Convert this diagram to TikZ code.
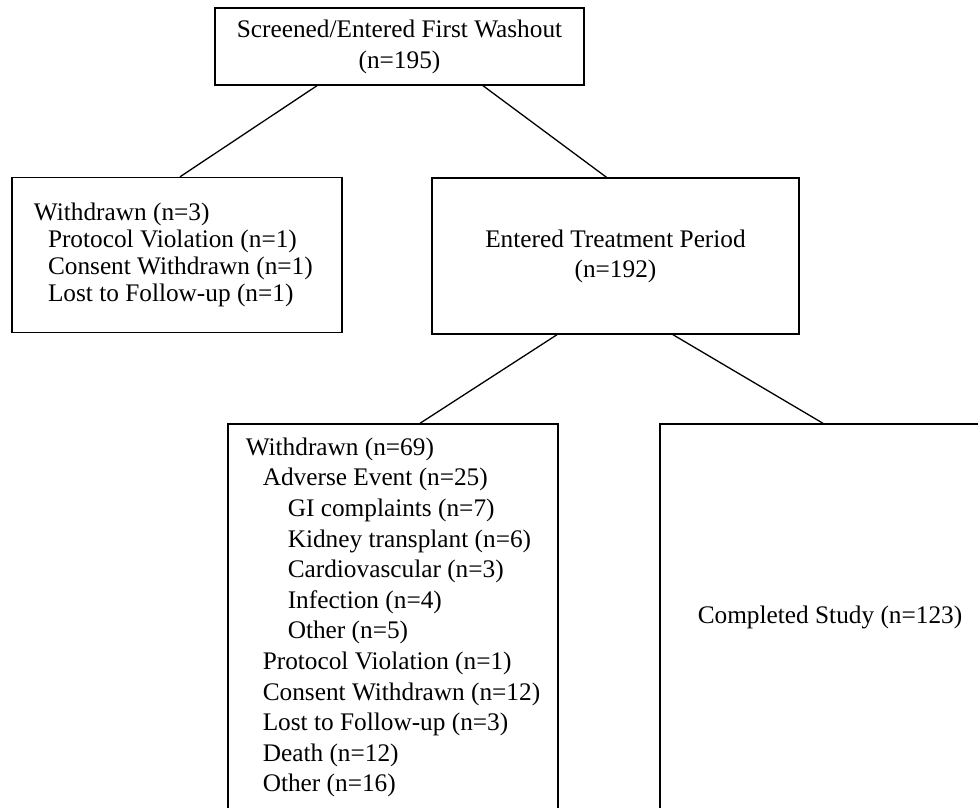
\documentclass[tikz,border=0pt]{standalone}
\usepackage{fontspec}
\setmainfont{Liberation Serif}
\usetikzlibrary{positioning,calc}
\newcommand{\ind}{\hspace*{14pt}}
\newcommand{\indb}{\hspace*{17pt}}
\newcommand{\indc}{\hspace*{42pt}}
\tikzset{
  bx/.style={draw,rectangle,line width=1.4pt,inner sep=0pt,
    font=\fontsize{25.3}{30.5}\selectfont},
  lead/.style={font=\fontsize{25.3}{#1}\selectfont}, % line spacing per box
  cbx/.style={bx,align=center},   % centred box
  lbx/.style={bx,align=flush left},     % list box
  link/.style={line width=1.3pt},
}
\begin{document}
\begin{tikzpicture}[x=1pt,y=-1pt]
  \useasboundingbox (0,0) rectangle (978,807);
  \clip (0,0) rectangle (978,807);
  % first level
  \node[cbx,lead=31pt,minimum width=369pt,minimum height=77pt] (scr) at (399.5,46.5)
    {Screened/Entered First Washout\\(n=195)};
  % second level
  \node[lbx,lead=27pt,minimum width=330pt,minimum height=155pt,text width=286pt] (wd1) at (177,255)
    {Withdrawn (n=3)\\
     \ind Protocol Violation (n=1)\\
     \ind Consent Withdrawn (n=1)\\
     \ind Lost to Follow-up (n=1)};
  \node[cbx,lead=30pt,minimum width=367pt,minimum height=156pt] (treat) at (615.5,256)
    {Entered Treatment Period\\(n=192)};
  % third level (runs off the page)
  \node[lbx,lead=30.6pt,minimum width=330pt,minimum height=387pt] (wd2) at (393,617.5)
    {Withdrawn (n=69)\\
     \indb Adverse Event (n=25)\\
     \indc GI complaints (n=7)\\
     \indc Kidney transplant (n=6)\\
     \indc Cardiovascular (n=3)\\
     \indc Infection (n=4)\\
     \indc Other (n=5)\\
     \indb Protocol Violation (n=1)\\
     \indb Consent Withdrawn (n=12)\\
     \indb Lost to Follow-up (n=3)\\
     \indb Death (n=12)\\
     \indb Other (n=16)};
  \node[cbx,minimum width=340pt,minimum height=387pt] (done) at (830,617.5)
    {Completed Study (n=123)};
  % branches
  \draw[link] ([xshift=-82.5pt]scr.south) -- ([xshift=3pt]wd1.north);
  \draw[link] ([xshift=83.5pt]scr.south) -- ([xshift=-9pt]treat.north);
  \draw[link] ([xshift=-58.5pt]treat.south) -- ([xshift=27pt]wd2.north);
  \draw[link] ([xshift=57.5pt]treat.south) -- ([xshift=-7pt]done.north);
\end{tikzpicture}
\end{document}
